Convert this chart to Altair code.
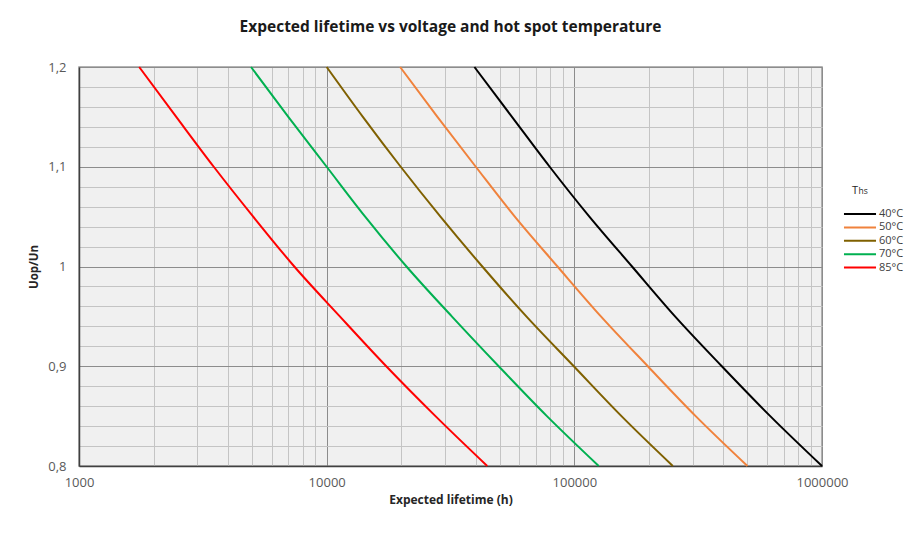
import altair as alt
import pandas as pd

# Voltage ratio Uop/Un
U = [0.8, 0.85, 0.9, 0.95, 1.0, 1.05, 1.1, 1.15, 1.2]
# Expected lifetime (h) for each hot spot temperature
L40 = [1000000, 618000, 394000, 255000, 171000, 115000, 79500, 56000, 39500]
L50 = [500000, 309000, 198000, 128000, 85500, 57500, 40000, 28000, 19800]
L60 = [250000, 155000, 99500, 64000, 42500, 28800, 19900, 14000, 10000]
L70 = [125500, 77500, 49500, 32000, 21000, 14300, 10000, 7000, 4950]
L85 = [44500, 27500, 17400, 11300, 7400, 5050, 3500, 2470, 1750]

SERIES = ["40°C", "50°C", "60°C", "70°C", "85°C"]
COLORS = ["#000000", "#F0823C", "#7F6000", "#00B050", "#FF0000"]

X_TICKS = [1000, 2000, 3000, 4000, 5000, 6000, 7000, 8000, 9000,
           10000, 20000, 30000, 40000, 50000, 60000, 70000, 80000, 90000,
           100000, 200000, 300000, 400000, 500000, 600000, 700000, 800000, 900000,
           1000000]
Y_TICKS = [0.8, 0.82, 0.84, 0.86, 0.88, 0.9, 0.92, 0.94, 0.96, 0.98,
           1.0, 1.02, 1.04, 1.06, 1.08, 1.1, 1.12, 1.14, 1.16, 1.18, 1.2]

rows = []
for name, vals in zip(SERIES, [L40, L50, L60, L70, L85]):
    for u, l in zip(U, vals):
        rows.append({"T": name, "U": u, "L": l})
df = pd.DataFrame(rows)

FONT = "Open Sans"
MAJOR = "#8c8c8c"
MINOR = "#c4c4c4"
x_major_test = "indexof([1000,10000,100000,1000000], datum.value) >= 0"
y_major_test = "abs(datum.value*10 - round(datum.value*10)) < 0.001"

lines = alt.Chart(df).mark_line(strokeWidth=2, interpolate="monotone").encode(
    x=alt.X("L:Q",
            scale=alt.Scale(type="log", domain=[1000, 1000000], nice=False),
            axis=alt.Axis(
                title="Expected lifetime (h)",
                values=X_TICKS,
                labelExpr=f"{x_major_test} ? format(datum.value, 'd') : ''",
                labelOverlap=False, labelFlush=False,
                ticks=False, labelPadding=10,
                labelFont=FONT, labelFontSize=13, labelColor="#595959",
                titleFont=FONT, titleFontSize=12, titleFontWeight="bold",
                titleColor="#262626", titleY=37, titleBaseline="alphabetic",
                domainColor="#404040", domainWidth=1.5,
                grid=True, gridWidth=1,
                gridColor={"condition": {"test": x_major_test, "value": MAJOR}, "value": MINOR},
            )),
    y=alt.Y("U:Q",
            scale=alt.Scale(domain=[0.8, 1.2], zero=False, nice=False),
            axis=alt.Axis(
                title="Uop/Un",
                values=Y_TICKS,
                labelExpr=f"{y_major_test} ? replace(format(datum.value, '.1~f'), '.', ',') : ''",
                labelOverlap=False, labelFlush=False,
                ticks=False, labelPadding=13,
                labelFont=FONT, labelFontSize=13, labelColor="#595959",
                titleFont=FONT, titleFontSize=11.5, titleFontWeight="bold",
                titleColor="#262626", titleX=-45, titleBaseline="middle",
                domainColor="#404040", domainWidth=1.5,
                grid=True, gridWidth=1,
                gridColor={"condition": {"test": y_major_test, "value": MAJOR}, "value": MINOR},
            )),
    color=alt.Color("T:N",
                    scale=alt.Scale(domain=SERIES, range=COLORS),
                    legend=alt.Legend(
                        title=None, orient="none", legendX=774, legendY=140,
                        padding=0, symbolType="M-2.67,0H2.67", symbolSize=144,
                        symbolStrokeWidth=2, labelOffset=12, rowPadding=1.4,
                        labelFont=FONT, labelFontSize=11, labelColor="#404040",
                    )),
    order=alt.Order("U:Q"),
)

leg_title_df = pd.DataFrame({"t": ["T"]})
leg_sub_df = pd.DataFrame({"t": ["hs"]})
leg_t = alt.Chart(leg_title_df).mark_text(
    font=FONT, fontSize=11, color="#262626", align="left", baseline="alphabetic"
).encode(text="t:N", x=alt.value(773), y=alt.value(127))
leg_hs = alt.Chart(leg_sub_df).mark_text(
    font=FONT, fontSize=8.5, color="#262626", align="left", baseline="alphabetic"
).encode(text="t:N", x=alt.value(779.5), y=alt.value(127))

chart = alt.layer(lines, leg_t, leg_hs).properties(
    width=743, height=399,
    autosize=alt.AutoSizeParams(type="none"),
    padding={"left": 71, "top": 59, "right": 90, "bottom": 77},
    background="white",
    title=alt.Title("Expected lifetime vs voltage and hot spot temperature",
                    font=FONT, fontSize=15.5, fontWeight="bold", color="#1a1a1a",
                    anchor="middle", frame="group", baseline="alphabetic", offset=14),
).configure_view(fill="#f0f0f0", stroke="#9a9a9a", strokeWidth=1.5)

chart.save("out.html", embed_options={"renderer": "svg", "actions": False})
